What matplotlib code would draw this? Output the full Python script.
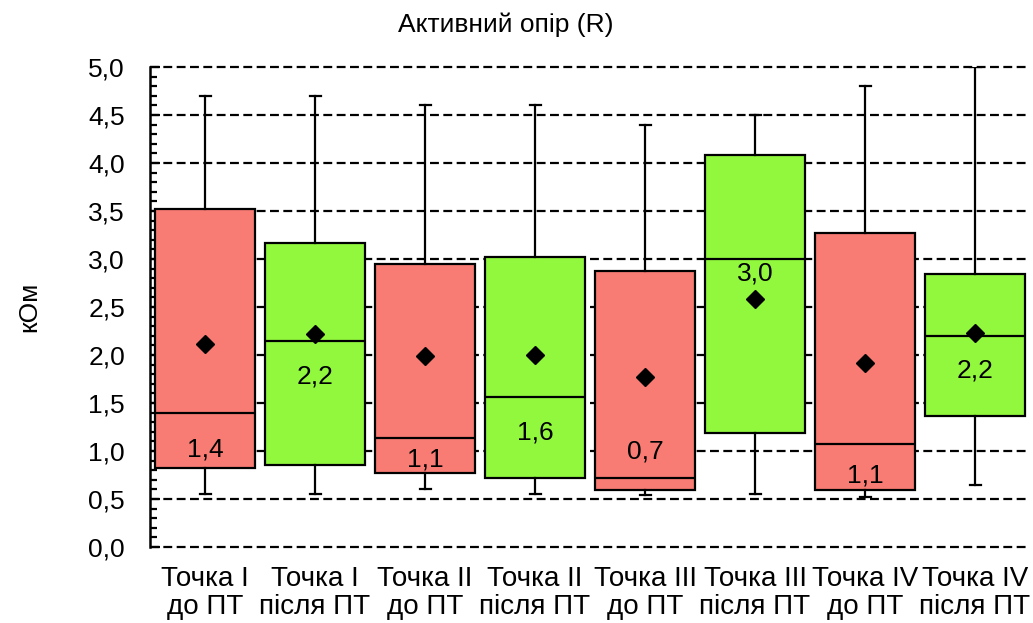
import numpy as np
import matplotlib
matplotlib.use('Agg')
import matplotlib.pyplot as plt
from matplotlib.ticker import MultipleLocator, FuncFormatter

plt.rcParams['font.family'] = ['Liberation Sans', 'DejaVu Sans']

# data (kOhm)
categories = ['Точка I\nдо ПТ', 'Точка I\nпісля ПТ', 'Точка II\nдо ПТ', 'Точка II\nпісля ПТ',
              'Точка III\nдо ПТ', 'Точка III\nпісля ПТ', 'Точка IV\nдо ПТ', 'Точка IV\nпісля ПТ']
whisker_low = [0.55, 0.55, 0.60, 0.55, 0.54, 0.55, 0.52, 0.65]
q1 = [0.82, 0.85, 0.77, 0.72, 0.59, 1.19, 0.59, 1.36]
medians = [1.40, 2.15, 1.14, 1.56, 0.72, 3.00, 1.07, 2.20]
q3 = [3.52, 3.17, 2.95, 3.02, 2.88, 4.08, 3.27, 2.84]
whisker_high = [4.70, 4.70, 4.60, 4.60, 4.40, 4.50, 4.80, 5.00]
means = [2.11, 2.22, 1.99, 2.00, 1.77, 2.58, 1.92, 2.23]
median_labels = ['1,4', '2,2', '1,1', '1,6', '0,7', '3,0', '1,1', '2,2']
label_y = [1.02, 1.78, 0.91, 1.19, 0.99, 2.85, 0.74, 1.84]

red = '#F87C74'
green = '#92F83E'
colors = [red, green] * 4

fig = plt.figure(figsize=(10.33, 6.23), dpi=100)
ax = fig.add_axes([150 / 1033, 76 / 623, 880 / 1033, 480 / 623])

stats = []
for i in range(len(categories)):
    stats.append(dict(whislo=whisker_low[i], q1=q1[i], med=medians[i], q3=q3[i],
                      whishi=whisker_high[i], mean=means[i], fliers=[]))

pos = np.arange(len(categories))
bp = ax.bxp(stats, positions=pos, widths=0.91, patch_artist=True, showmeans=True,
            boxprops=dict(edgecolor='black', linewidth=1.6),
            medianprops=dict(color='black', linewidth=1.6),
            whiskerprops=dict(color='black', linewidth=1.6),
            capprops=dict(color='black', linewidth=1.6),
            capwidths=0.1,
            meanprops=dict(marker='D', markerfacecolor='black', markeredgecolor='black',
                           markersize=9),
            zorder=3)
for patch, c in zip(bp['boxes'], colors):
    patch.set_facecolor(c)

for i, lab in enumerate(median_labels):
    ax.text(pos[i], label_y[i], lab, ha='center', va='center', fontsize=19, zorder=5)

# dashed grid including 0 and 5
for y in np.arange(0, 5.01, 0.5):
    ax.axhline(y, color='black', linestyle=(0, (4, 2)), linewidth=1.6, zorder=1, clip_on=False)

ax.set_xlim(-0.5, 7.5)
ax.set_ylim(0, 5)
for s in ['top', 'right', 'bottom']:
    ax.spines[s].set_visible(False)
ax.spines['left'].set_linewidth(1.8)

ax.yaxis.set_major_locator(MultipleLocator(0.5))
ax.yaxis.set_minor_locator(MultipleLocator(0.1))
ax.yaxis.set_major_formatter(FuncFormatter(lambda v, p: f'{v:.1f}'.replace('.', ',')))
ax.tick_params(axis='y', which='major', direction='in', length=7, width=1.6, labelsize=19, pad=18)
ax.tick_params(axis='y', which='minor', direction='in', length=5, width=1.6)

ax.set_xticks(pos)
ax.set_xticklabels(categories, fontsize=20, linespacing=1.1,
                   family=['Liberation Sans Narrow', 'Liberation Sans', 'DejaVu Sans'])
ax.tick_params(axis='x', length=0, pad=14)

ax.set_ylabel('кОм', fontsize=19, labelpad=34)
fig.text(506 / 1033, 1 - 25 / 623, 'Активний опір (R)', ha='center', va='center', fontsize=19)

fig.savefig('out.png', dpi=100)
